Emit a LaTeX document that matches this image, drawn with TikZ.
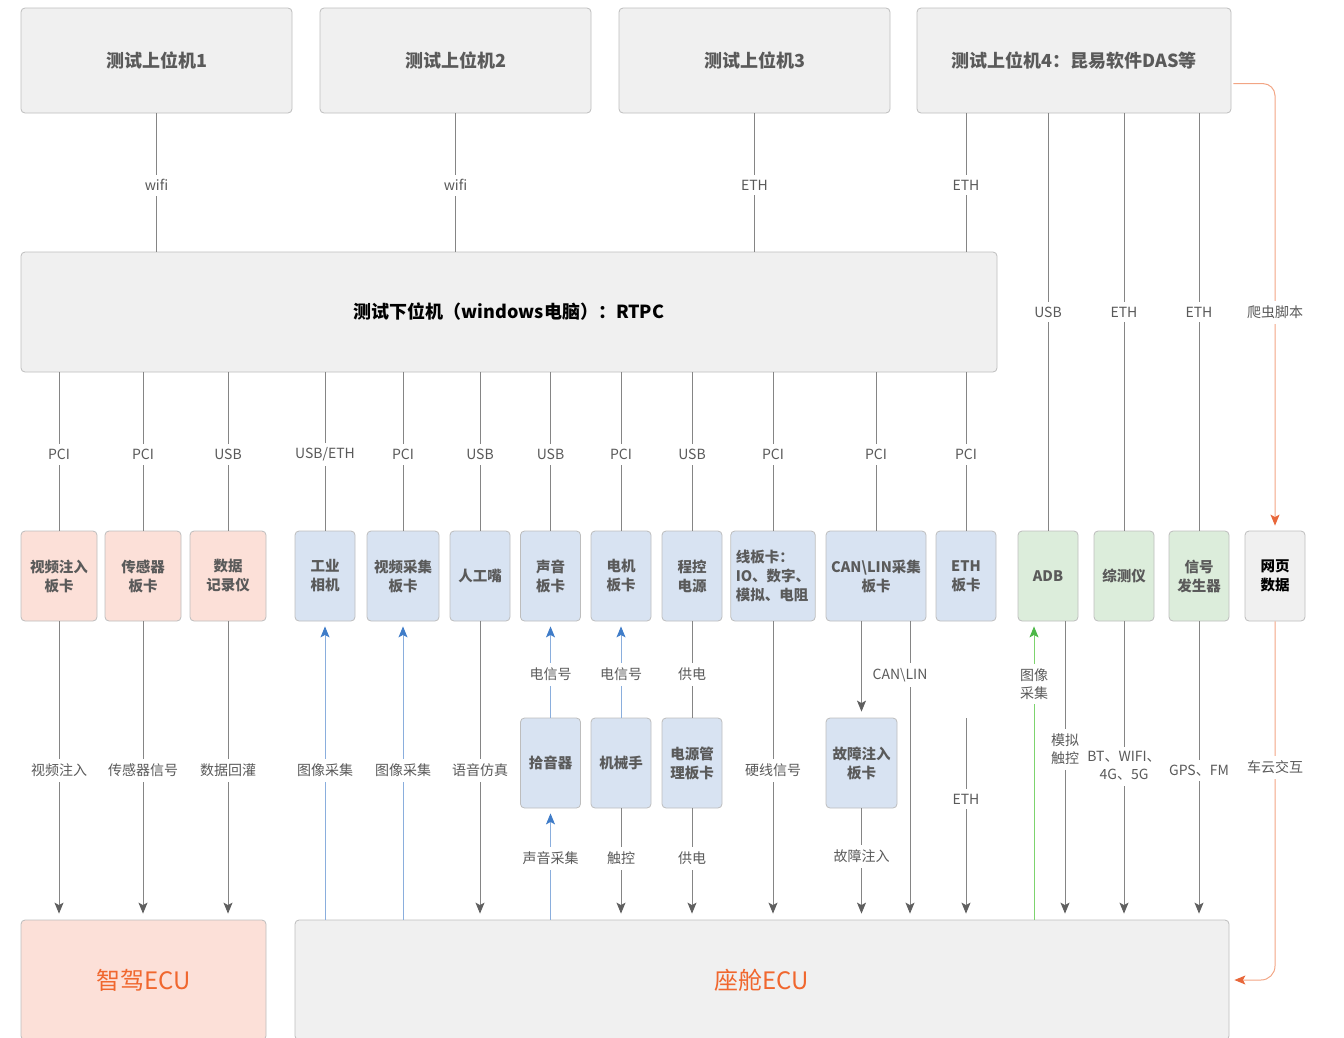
\documentclass[tikz,border=0pt]{standalone}
\usepackage{fontspec}
\setmainfont{Noto Sans CJK SC}
\usetikzlibrary{arrows.meta,calc}
\definecolor{boxgray}{HTML}{F0F0F0}
\definecolor{boxborder}{HTML}{BDBDBD}
\definecolor{salmon}{HTML}{FCE0D8}
\definecolor{bluefill}{HTML}{D8E3F2}
\definecolor{greenfill}{HTML}{DCEDDB}
\definecolor{labtext}{HTML}{5A5A5A}
\definecolor{linegray}{HTML}{858585}
\definecolor{arrgray}{HTML}{5F5F5F}
\definecolor{bline}{HTML}{8AAEDD}
\definecolor{barrow}{HTML}{3F7CC8}
\definecolor{gline}{HTML}{7DD46E}
\definecolor{garrow}{HTML}{4DB848}
\definecolor{oline}{HTML}{F2A584}
\definecolor{oarrow}{HTML}{E8673A}
\definecolor{ecutext}{HTML}{F0672E}
\begin{document}
\begin{tikzpicture}[x=1pt,y=-1pt,
  box/.style={draw=boxborder, rounded corners=4pt, line width=0.8pt, align=center, text=labtext, inner sep=2pt},
  top/.style={box, fill=boxgray, minimum height=105pt, font=\fontsize{18}{22}\selectfont\bfseries},
  card/.style={box, minimum width=60pt, minimum height=90pt, font=\fontsize{14.5}{19}\selectfont\bfseries},
  sbox/.style={fill=salmon}, bbox/.style={fill=bluefill}, grbox/.style={fill=greenfill}, gbox/.style={fill=boxgray},
  conn/.style={draw=linegray, line width=0.9pt},
  tip/.style={-{Stealth[length=11pt,width=9pt,inset=2.5pt,color=#1]}},
  arr/.style={conn, tip=arrgray, shorten >=6pt},
  barr/.style={draw=bline, line width=0.9pt, tip=barrow, shorten >=5pt},
  garr/.style={draw=gline, line width=0.9pt, tip=garrow, shorten >=5pt},
  oarr/.style={draw=oline, line width=1pt, tip=oarrow, shorten >=5pt},
  lab/.style={fill=white, text=labtext, font=\fontsize{14}{18}\selectfont, inner xsep=2pt, inner ysep=5pt, align=center}]
\useasboundingbox (0,0) rectangle (1344,1037);
% top boxes
\node[top, minimum width=271pt] (t1) at (156.5,60.5) {测试上位机1};
\node[top, minimum width=271pt] (t2) at (455.5,60.5) {测试上位机2};
\node[top, minimum width=271pt] (t3) at (754.5,60.5) {测试上位机3};
\node[top, minimum width=314pt] (t4) at (1074,60.5) {测试上位机4：昆易软件DAS等};
\node[box, fill=boxgray, minimum width=976pt, minimum height=120pt, text=black, font=\fontsize{18}{22}\selectfont\bfseries] (rtpc) at (509,312) {测试下位机（windows电脑）：RTPC};
% cards
\node[card,sbox,minimum width=76pt] (c1) at (59,576) {视频注入\\板卡};
\node[card,sbox,minimum width=76pt] (c2) at (143,576) {传感器\\板卡};
\node[card,sbox,minimum width=76pt] (c3) at (228,576) {数据\\记录仪};
\node[card,bbox] (c4) at (325,576) {工业\\相机};
\node[card,bbox,minimum width=72pt] (c5) at (403,576) {视频采集\\板卡};
\node[card,bbox] (c6) at (480,576) {人工嘴};
\node[card,bbox] (c7) at (550.5,576) {声音\\板卡};
\node[card,bbox] (c8) at (621,576) {电机\\板卡};
\node[card,bbox] (c9) at (692,576) {程控\\电源};
\node[card,bbox,minimum width=80pt,align=left,inner xsep=5pt] (c10) at (773,576) {线板卡：\\IO、数字、\\模拟、电阻};
\node[card,bbox,minimum width=100pt] (c11) at (876,576) {CAN\textbackslash LIN采集\\板卡};
\node[card,bbox] (c12) at (966,576) {ETH\\板卡};
\node[card,grbox] (c13) at (1048,576) {ADB};
\node[card,grbox] (c14) at (1124,576) {综测仪};
\node[card,grbox] (c15) at (1199,576) {信号\\发生器};
\node[card,gbox,text=black] (c16) at (1275,576) {网页\\数据};
% second row
\node[card,bbox] (d1) at (550.5,763) {拾音器};
\node[card,bbox] (d2) at (621,763) {机械手};
\node[card,bbox] (d3) at (692,763) {电源管\\理板卡};
\node[card,bbox,minimum width=71pt] (d4) at (861.5,763) {故障注入\\板卡};
% ECUs
\node[box, fill=salmon, minimum width=245pt, minimum height=120pt, text=ecutext, font=\fontsize{24}{28}\selectfont] (zj) at (143.5,980) {智驾ECU};
\node[box, fill=boxgray, minimum width=934pt, minimum height=120pt, text=ecutext, font=\fontsize{24}{28}\selectfont] (zc) at (762,980) {座舱ECU};
% top connectors
\draw[conn] (t1.south) -- (t1.south |- rtpc.north) node[lab,pos=0.52]{wifi};
\draw[conn] (t2.south) -- (t2.south |- rtpc.north) node[lab,pos=0.52]{wifi};
\draw[conn] (t3.south) -- (t3.south |- rtpc.north) node[lab,pos=0.52]{ETH};
\draw[conn] (t4.south -| c12.north) -- (rtpc.north -| c12.north) node[lab,pos=0.52]{ETH};
\draw[conn] (t4.south -| c13.north) -- (c13.north) node[lab,pos=0.476]{USB};
\draw[conn] (t4.south -| c14.north) -- (c14.north) node[lab,pos=0.476]{ETH};
\draw[conn] (t4.south -| c15.north) -- (c15.north) node[lab,pos=0.476]{ETH};
\draw[oarr, rounded corners=12pt] ($(t4.north east)+(2,76)$) -| (c16.north);
\node[lab] at (c16.north |- rtpc.center) {爬虫脚本};
% RTPC to cards
\draw[conn] (rtpc.south -| c1.north) -- (c1.north) node[lab,pos=0.52]{PCI};
\draw[conn] (rtpc.south -| c2.north) -- (c2.north) node[lab,pos=0.52]{PCI};
\draw[conn] (rtpc.south -| c3.north) -- (c3.north) node[lab,pos=0.52]{USB};
\draw[conn] (rtpc.south -| c4.north) -- (c4.north) node[lab,pos=0.52]{USB/ETH};
\draw[conn] (rtpc.south -| c5.north) -- (c5.north) node[lab,pos=0.52]{PCI};
\draw[conn] (rtpc.south -| c6.north) -- (c6.north) node[lab,pos=0.52]{USB};
\draw[conn] (rtpc.south -| c7.north) -- (c7.north) node[lab,pos=0.52]{USB};
\draw[conn] (rtpc.south -| c8.north) -- (c8.north) node[lab,pos=0.52]{PCI};
\draw[conn] (rtpc.south -| c9.north) -- (c9.north) node[lab,pos=0.52]{USB};
\draw[conn] (rtpc.south -| c10.north) -- (c10.north) node[lab,pos=0.52]{PCI};
\draw[conn] (rtpc.south -| c11.north) -- (c11.north) node[lab,pos=0.52]{PCI};
\draw[conn] (rtpc.south -| c12.north) -- (c12.north) node[lab,pos=0.52]{PCI};
% lower connectors
\draw[arr] (c1.south) -- (c1.south |- zj.north) node[lab,midway]{视频注入};
\draw[arr] (c2.south) -- (c2.south |- zj.north) node[lab,midway]{传感器信号};
\draw[arr] (c3.south) -- (c3.south |- zj.north) node[lab,midway]{数据回灌};
\draw[barr] (c4.south |- zc.north) -- (c4.south) node[lab,midway]{图像采集};
\draw[barr] (c5.south |- zc.north) -- (c5.south) node[lab,midway]{图像采集};
\draw[arr] (c6.south) -- (c6.south |- zc.north) node[lab,midway]{语音仿真};
\draw[barr] (d1.north) -- (c7.south) node[lab,pos=0.45]{电信号};
\draw[barr] (d1.south |- zc.north) -- (d1.south) node[lab,pos=0.55]{声音采集};
\draw[barr] (d2.north) -- (c8.south) node[lab,pos=0.45]{电信号};
\draw[arr] (d2.south) -- (d2.south |- zc.north) node[lab,pos=0.45]{触控};
\draw[conn] (c9.south) -- (d3.north) node[lab,pos=0.55]{供电};
\draw[arr] (d3.south) -- (d3.south |- zc.north) node[lab,pos=0.45]{供电};
\draw[arr] (c10.south) -- (c10.south |- zc.north) node[lab,midway]{硬线信号};
\draw[arr] (c11.south -| d4.north) -- (d4.north);
\draw[arr] (d4.south) -- (d4.south |- zc.north) node[lab,pos=0.43]{故障注入};
\coordinate (cl) at ($(c11.south)+(34,0)$);
\draw[arr] (cl) -- (cl |- zc.north) node[lab,pos=0.18,xshift=-10pt]{CAN\textbackslash LIN};
\coordinate (es) at ($(c12.south)+(0,97)$);
\draw[arr] (es) -- (es |- zc.north) node[lab,pos=0.40]{ETH};
\coordinate (ga) at ($(c13.south)+(-14,0)$);
\draw[garr] (ga |- zc.north) -- (ga) node[lab,pos=0.79]{图像\\采集};
\coordinate (mt) at ($(c13.south)+(17,0)$);
\draw[arr] (mt) -- (mt |- zc.north) node[lab,pos=0.43,inner xsep=0pt]{模拟\\触控};
\draw[arr] (c14.south) -- (c14.south |- zc.north) node[lab,pos=0.485,inner xsep=0pt]{BT、WIFI、\\4G、5G};
\draw[arr] (c15.south) -- (c15.south |- zc.north) node[lab,midway]{GPS、FM};
\draw[oarr, rounded corners=14pt] (c16.south) |- (zc.east);
\node[lab] at ($(c16.south)+(0,146)$) {车云交互};
\end{tikzpicture}
\end{document}
